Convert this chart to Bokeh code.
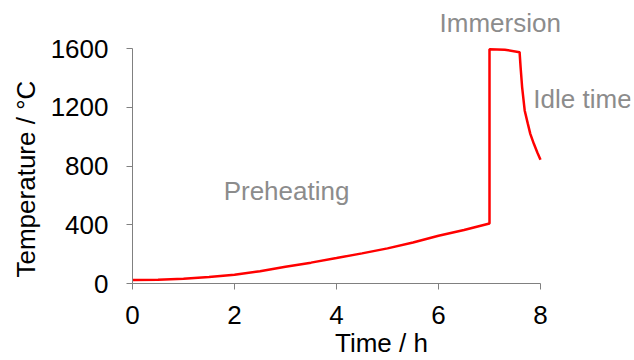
from bokeh.plotting import figure
from bokeh.models import FixedTicker, Label, Range1d, Title
from bokeh.embed import file_html
from bokeh.resources import INLINE

time_h = [0, 0.5, 1, 1.5, 2, 2.5, 3, 3.5, 4, 4.5, 5, 5.5, 6, 6.5, 7, 7.0, 7.3, 7.59,
          7.61, 7.64, 7.69, 7.75, 7.8, 7.87, 7.94, 8.0]
temp_c = [23, 25, 32, 44, 59, 84, 114, 142, 173, 205, 239, 279, 325, 364, 409, 1595, 1592, 1575,
          1472, 1336, 1178, 1090, 1019, 951, 890, 842]
x_ticks = [0, 2, 4, 6, 8]
y_ticks = [0, 400, 800, 1200, 1600]
phase_labels = ["Preheating", "Immersion", "Idle time"]
phase_x = [3.02, 7.21, 7.86]
phase_y = [633, 1777, 1253]

FONT = "Liberation Sans"
FS = "26px"
# frame extends past the axes so that the phase labels are not clipped
x_end = 8 * 498 / 408
y_end = 1600 * 283 / 235
p = figure(width=634, height=360, output_backend="svg", toolbar_location=None,
           x_range=Range1d(0, x_end), y_range=Range1d(0, y_end),
           min_border_left=132, min_border_right=4, min_border_top=0, min_border_bottom=77)
p.outline_line_color = None
p.grid.visible = False
p.background_fill_color = "white"
p.border_fill_color = "white"

p.line(time_h, temp_c, line_color="#ff0000", line_width=2.5)

for ax, ticks in ((p.xaxis[0], x_ticks), (p.yaxis[0], y_ticks)):
    ax.ticker = FixedTicker(ticks=ticks)
    ax.bounds = (ticks[0], ticks[-1])
    ax.minor_tick_line_color = None
    ax.axis_line_color = "#808080"
    ax.major_tick_line_color = "#808080"
    ax.major_tick_in = 0
    ax.major_tick_out = 6
    ax.major_label_text_font = FONT
    ax.major_label_text_font_size = FS
    ax.major_label_text_color = "#000000"
    ax.axis_label_text_font = FONT
    ax.axis_label_text_font_size = FS
    ax.axis_label_text_font_style = "normal"
    ax.axis_label_text_color = "#000000"

p.xaxis.axis_label = "Time / h"
p.xaxis.major_label_standoff = 16
p.yaxis.major_label_standoff = 18
p.xaxis.axis_label_standoff = 1

# y-axis title, aligned to the bottom of the visible axis
p.add_layout(Title(text="Temperature / °C", align="left", offset=6, standoff=13,
                   text_font=FONT, text_font_size=FS, text_font_style="normal",
                   text_color="#000000"), "left")

aligns = ["center", "center", "left"]
for t, x, y, a in zip(phase_labels, phase_x, phase_y, aligns):
    p.add_layout(Label(x=x, y=y, text=t, text_align=a, text_baseline="middle",
                       text_font=FONT, text_font_size=FS, text_color="#8c8c8c"))

open("out.html", "w").write(file_html(p, INLINE))
